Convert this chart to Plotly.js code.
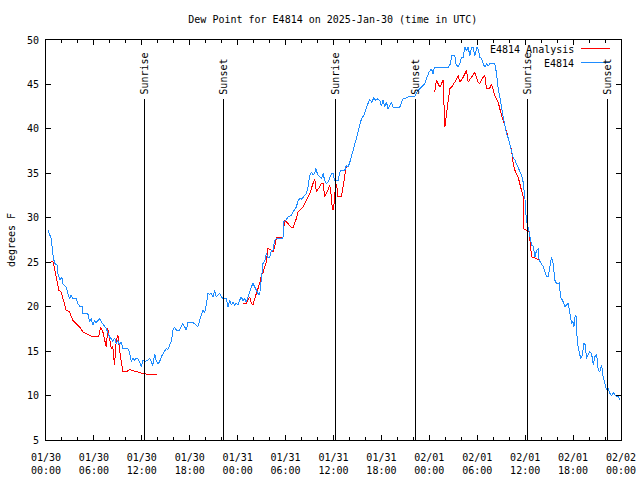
<!DOCTYPE html>
<html>
<head>
<meta charset="utf-8">
<script src="https://cdn.plot.ly/plotly-3.0.1.min.js"></script>
<style>
html,body{margin:0;padding:0;background:#fff;}
#chart{width:640px;height:480px;}
#chart .scatterlayer path.js-line{shape-rendering:crispEdges;}
#chart .shapelayer path{shape-rendering:crispEdges;}
</style>
</head>
<body>
<div id="chart"></div>
<script>
// hours since 2025-01-30 00:00 UTC
const obsHours = [0.23,0.65,0.85,1.07,1.48,1.5,1.78,1.98,2.11,2.53,2.73,2.94,3.16,3.36,3.78,3.98,4.2,4.52,4.61,5.24,5.45,5.66,5.86,6.08,6.29,6.49,6.7,6.92,7.12,7.33,7.54,7.74,7.96,8.17,8.37,8.58,8.8,9.0,9.21,9.42,9.62,10.25,10.46,10.68,10.88,11.09,11.3,11.5,11.72,11.93,12.13,12.34,12.56,12.76,12.97,13.18,13.38,13.6,13.81,14.01,14.22,14.44,14.64,14.85,15.06,15.26,15.48,15.69,15.89,16.1,16.32,16.52,16.73,16.94,17.14,17.36,17.57,17.77,18.4,18.61,18.82,19.02,19.24,19.45,19.65,19.86,20.08,20.28,20.49,20.7,20.9,21.12,21.33,21.53,21.74,21.95,22.16,22.58,22.78,23.0,23.21,23.41,23.62,23.83,24.04,24.25,24.46,24.66,24.87,25.08,25.29,25.5,25.71,25.92,26.13,26.33,26.54,26.75,26.97,27.17,27.38,27.59,27.79,28.01,28.22,28.42,28.63,28.85,29.26,29.67,29.76,30.01,30.3,30.73,30.93,31.35,31.55,31.77,31.98,32.18,32.39,32.61,32.81,33.02,33.23,33.43,33.65,33.77,34.06,34.27,34.49,34.69,34.9,35.11,35.31,35.53,35.74,35.94,36.15,36.57,36.78,36.99,37.41,37.62,37.82,38.03,38.24,38.45,38.78,39.04,39.29,39.54,39.79,40.04,40.29,40.54,40.79,41.04,41.29,41.54,41.79,42.0,42.2,42.42,42.63,42.83,43.26,43.46,43.88,44.3,44.51,44.71,45.14,45.55,46.18,46.39,46.59,47.02,47.43,47.64,47.97,48.27,48.47,48.6,48.68,50.35,50.65,50.78,51.19,51.32,51.6,51.82,52.03,52.23,52.44,52.66,52.86,53.07,53.28,53.48,53.7,53.98,54.11,54.32,54.53,54.74,54.95,55.16,55.36,55.58,56.2,56.42,56.62,56.83,57.04,57.24,57.46,57.67,57.87,58.08,58.29,58.5,58.71,58.92,59.12,59.34,59.55,59.75,59.96,60.09,60.25,60.5,60.59,60.8,61.0,61.22,61.43,61.63,61.75,62.06,62.26,62.47,62.68,62.88,63.1,63.31,63.51,63.72,63.93,64.26,64.44,64.76,64.97,65.18,65.39,65.6,65.81,65.98,66.1,66.27,66.39,66.52,66.77,66.94,67.14,67.36,67.52,67.69,67.89,68.11,68.32,68.53,68.73,68.95,69.15,69.36,69.57,69.77,69.99,70.2,70.4,70.61,70.82,71.02,71.24,71.45,71.65,71.87];
const obsDewF = [28.67,27.66,25.98,24.85,24.66,23.7,22.98,23.35,22.6,22.2,21.48,20.9,21.3,20.9,20.9,20.36,20.06,20.06,19.2,19.2,18.3,18.67,17.9,18.4,18.2,18.5,18.67,18.3,18.1,17.8,17.55,17.0,16.6,16.4,16.1,16.5,15.86,16.2,15.7,16.05,15.3,15.3,14.9,13.8,14.2,14.0,14.2,14.1,13.8,13.24,14.0,13.8,13.9,14.0,14.2,13.8,13.4,14.7,13.9,13.6,13.8,14.36,14.74,15.0,15.3,15.2,15.67,16.05,17.36,17.73,17.36,17.36,17.36,17.73,18.1,17.73,17.36,18.2,18.2,18.1,17.9,17.73,18.48,19.0,19.6,19.3,20.2,21.48,21.4,21.48,21.1,21.85,21.1,21.3,21.48,21.1,20.9,20.9,19.98,20.7,20.2,20.5,20.17,20.4,20.2,20.73,21.1,20.7,20.9,20.5,21.1,21.85,22.23,22.6,22.2,21.85,21.5,21.3,23.35,24.85,25.1,25.98,25.5,25.6,26.35,26.35,27.47,27.66,27.7,27.7,29.53,29.72,30.09,30.28,30.65,31.21,31.9,32.16,32.1,32.34,32.5,32.72,33.46,34.78,35.15,34.8,34.97,35.53,34.78,34.6,34.4,34.97,34.2,33.84,34.0,34.5,34.97,34.97,34.2,34.2,35.15,35.34,35.34,35.9,35.7,36.2,36.83,37.58,38.5,39.5,40.5,41.2,41.5,42.3,42.8,43.3,43.0,43.5,43.2,43.4,43.2,42.6,43.2,42.45,43.0,42.27,43.0,42.4,42.38,42.45,43.0,43.4,43.5,43.65,43.65,43.95,44.33,44.7,45.08,45.64,46.38,46.76,46.2,46.76,46.88,46.88,47.33,48.26,48.26,47.33,46.94,47.33,48.07,48.07,49.19,48.82,49.19,48.26,49.19,49.19,48.26,49.19,49.0,48.07,47.9,47.33,46.94,47.33,47.1,47.33,47.33,46.2,44.52,43.57,42.27,41.33,40.4,39.46,39.0,38.34,37.58,36.8,36.5,36.09,35.71,35.2,34.78,34.0,32.34,30.47,29.35,28.4,28.03,26.9,26.8,25.6,26.35,26.54,25.23,24.85,24.5,23.9,23.35,23.35,24.47,25.6,24.85,22.98,22.6,22.67,21.1,20.54,19.98,20.2,20.36,19.23,18.1,18.3,17.73,19.04,18.9,16.05,15.1,14.18,14.5,15.87,15.7,14.18,14.6,14.93,14.7,13.43,14.36,14.6,12.87,12.7,13.43,12.1,11.37,10.62,10.8,10.25,10.0,10.32,10.1,9.87,9.9,9.5];

const anaHours = [0.65,0.85,1.07,1.28,1.48,1.6,1.9,2.11,2.32,2.53,2.94,3.16,3.36,3.78,4.2,4.61,5.24,5.66,6.62,6.83,7.12,7.33,7.54,7.74,7.96,8.17,8.37,8.58,8.8,9.0,9.21,9.42,9.62,10.05,10.46,10.88,11.3,11.72,12.13,12.59,13.88,19.0,24.66,25.08,25.29,25.5,25.71,25.92,26.13,26.33,26.54,26.75,26.97,27.17,27.38,27.59,27.79,28.22,28.42,28.63,28.85,29.67,29.76,29.89,30.3,30.73,30.93,31.35,31.55,32.18,32.61,33.02,33.43,33.65,33.86,34.27,34.49,34.69,34.9,35.31,35.53,35.74,35.86,36.02,36.15,36.37,36.57,36.99,37.2,37.41,37.62,43.0,48.68,48.89,49.31,49.72,49.94,50.15,50.35,50.56,50.78,51.19,51.6,51.82,52.23,52.66,52.86,53.28,53.7,54.11,54.32,54.74,54.95,55.16,55.58,55.78,55.99,56.2,56.62,56.83,57.04,57.46,57.87,58.29,58.5,58.71,59.12,59.34,59.55,59.75,59.76,60.09,60.5,60.68,60.8,61.43,61.84];
const anaDewF = [25.08,25.08,24.3,23.35,22.6,21.85,21.66,20.9,20.17,19.6,19.42,19.0,18.48,18.1,17.73,17.17,16.9,16.68,16.68,17.73,17.17,16.3,15.48,17.55,16.24,15.3,15.5,13.43,16.24,16.8,15.1,13.99,12.67,12.67,12.94,12.8,12.67,12.6,12.49,12.41,12.41,null,20.36,20.36,20.73,21.1,20.4,20.17,20.9,21.48,22.23,22.6,23.54,23.8,24.47,25.03,26.54,26.35,26.16,26.72,27.78,27.78,28.78,29.72,29.35,28.9,28.9,29.9,30.65,31.21,31.97,32.72,33.84,34.4,32.9,33.46,33.84,33.9,32.34,33.09,33.65,32.34,30.92,30.92,32.72,33.84,32.34,32.34,33.46,34.58,35.9,null,44.14,45.45,44.7,45.45,40.2,41.7,43.2,44.52,44.7,45.26,46.0,45.26,45.8,46.57,45.26,45.8,46.38,45.26,45.08,45.82,46.0,44.52,44.6,45.08,44.33,43.76,43.0,42.08,41.52,40.4,39.08,37.58,36.09,35.34,34.58,33.84,32.9,32.34,28.78,28.6,28.4,26.72,25.6,25.4,25.23];

const sunHours = [12.36, 22.26, 36.29, 46.32, 60.31, 70.34];
const sunLabels = ["Sunrise","Sunset","Sunrise","Sunset","Sunrise","Sunset"];

const tickHours = [0,6,12,18,24,30,36,42,48,54,60,66,72];
const tickLabels = ["01/30<br>00:00","01/30<br>06:00","01/30<br>12:00","01/30<br>18:00","01/31<br>00:00","01/31<br>06:00","01/31<br>12:00","01/31<br>18:00","02/01<br>00:00","02/01<br>06:00","02/01<br>12:00","02/01<br>18:00","02/02<br>00:00"];

const seriesNames = ["E4814 Analysis", "E4814"];
const seriesColors = ["#ff0000", "#1e8cff"];

const BASE = Date.UTC(2025, 0, 30, 0, 0, 0);
function toDate(h) {
  return new Date(BASE + Math.round(h * 3600000)).toISOString().replace('T', ' ').slice(0, 19);
}

const FONT = "DejaVu Sans Mono, monospace";

const traces = [
  {x: anaHours.map(toDate), y: anaDewF, type: 'scatter', mode: 'lines', name: seriesNames[0],
   line: {color: seriesColors[0], width: 1}, connectgaps: false, hoverinfo: 'skip'},
  {x: obsHours.map(toDate), y: obsDewF, type: 'scatter', mode: 'lines', name: seriesNames[1],
   line: {color: seriesColors[1], width: 1}, hoverinfo: 'skip'}
];

const shapes = sunHours.map(h => ({
  type: 'line', xref: 'x', yref: 'y', x0: toDate(h), x1: toDate(h), y0: 5, y1: 43.4,
  line: {color: '#000', width: 1}
}));
const annotations = sunHours.map((h, i) => ({
  x: toDate(h), y: 43.6, xref: 'x', yref: 'y', text: sunLabels[i], textangle: -90,
  showarrow: false, xanchor: 'center', yanchor: 'bottom', font: {family: FONT, size: 10, color: '#000'}
}));

// gnuplot-style key (text right-aligned, sample line to the right)
const keyY = [0.976, 0.942];
seriesNames.forEach((n, i) => {
  annotations.push({x: 0.9215, y: keyY[i], xref: 'paper', yref: 'paper', text: n, showarrow: false,
    xanchor: 'right', yanchor: 'middle', font: {family: FONT, size: 10, color: '#000'}});
  shapes.push({type: 'line', xref: 'paper', yref: 'paper', x0: 0.931, x1: 0.981, y0: keyY[i] + 0.003, y1: keyY[i] + 0.003,
    line: {color: seriesColors[i], width: 1}});
});

const layout = {
  width: 640, height: 480,
  margin: {l: 46, r: 19, t: 40, b: 40, pad: 0},
  paper_bgcolor: '#fff', plot_bgcolor: '#fff',
  showlegend: false,
  font: {family: FONT, size: 10, color: '#000'},
  title: {text: 'Dew Point for E4814 on 2025-Jan-30 (time in UTC)', font: {family: FONT, size: 10, color: '#000'},
          x: 0.52, xanchor: 'center', y: 0.96, yanchor: 'middle'},
  xaxis: {
    type: 'date', range: [toDate(0), toDate(72)], tickmode: 'array',
    tickvals: tickHours.map(toDate), ticktext: tickLabels,
    ticks: 'inside', ticklen: 5, tickwidth: 1, tickcolor: '#000',
    showline: true, linecolor: '#000', linewidth: 1, mirror: 'ticks',
    showgrid: false, zeroline: false, ticklabelstandoff: 8,
    minor: {dtick: 2 * 3600000, ticks: 'inside', ticklen: 3, tickcolor: '#000', showgrid: false},
    tickfont: {family: FONT, size: 10, color: '#000'}
  },
  yaxis: {
    range: [5, 50], dtick: 5, tick0: 5,
    ticks: 'inside', ticklen: 5, tickwidth: 1, tickcolor: '#000',
    showline: true, linecolor: '#000', linewidth: 1, mirror: 'ticks',
    showgrid: false, zeroline: false, ticklabelstandoff: 4,
    title: {text: 'degrees F', font: {family: FONT, size: 10, color: '#000'}, standoff: 9},
    tickfont: {family: FONT, size: 10, color: '#000'}
  },
  shapes: shapes,
  annotations: annotations
};

Plotly.newPlot('chart', traces, layout, {staticPlot: true, displayModeBar: false});
</script>
</body>
</html>
